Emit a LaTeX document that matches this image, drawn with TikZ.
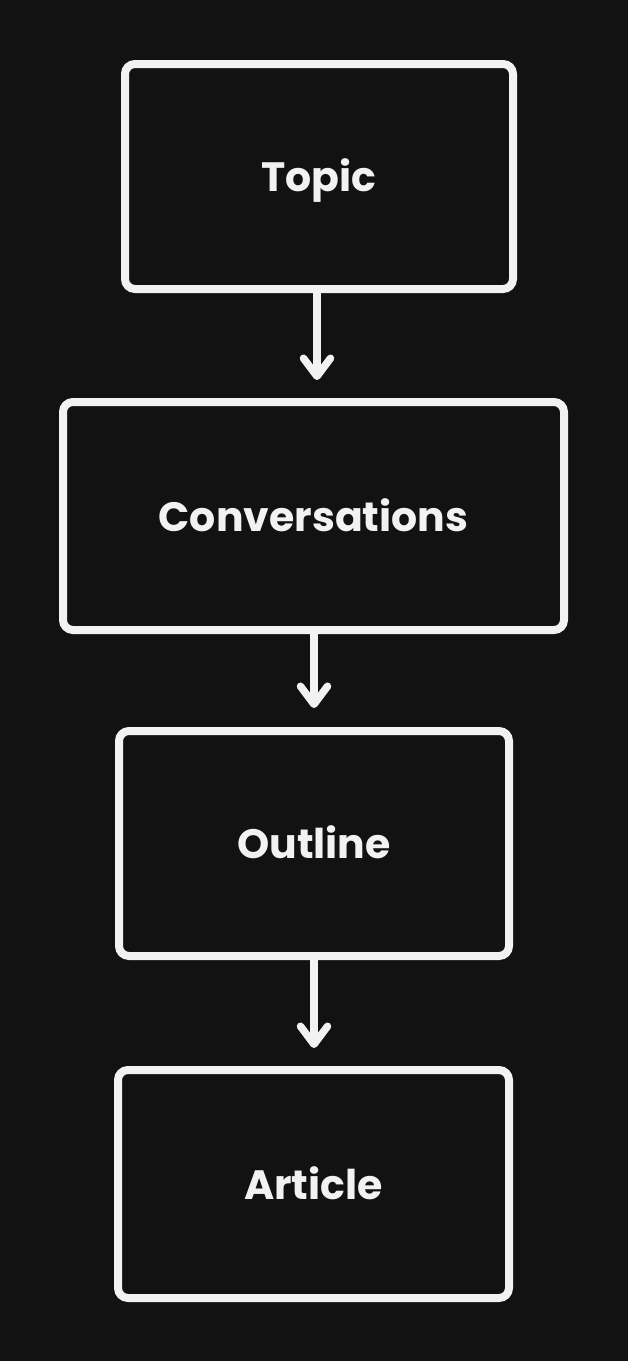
\documentclass[tikz,border=0pt]{standalone}
\usepackage{fontspec}
\setmainfont{Poppins}
\usetikzlibrary{arrows.meta}
\definecolor{bg}{HTML}{121212}
\definecolor{ink}{HTML}{F2F2F2}
\tikzset{
  stepbox/.style={draw=ink, line width=8pt, rounded corners=10pt, rectangle,
    text=ink, font=\fontsize{41}{41}\selectfont\bfseries,
    text height=30pt, text depth=0pt, inner sep=0pt},
  flowarrow/.style={draw=ink, line width=7.5pt, line cap=round,
    -{Straight Barb[length=18pt, width=27pt, line cap=round, line join=round]}}
}
\begin{document}
\begin{tikzpicture}[x=1pt, y=-1pt]
  \fill[bg] (0,0) rectangle (628,1361);
  \useasboundingbox (0,0) rectangle (628,1361);
  \node[stepbox, minimum width=388pt, minimum height=225pt] (t) at (319,176.5) {Topic};
  \node[stepbox, minimum width=501pt, minimum height=228pt] (c) at (313.5,516) {Conversations};
  \node[stepbox, minimum width=390pt, minimum height=225pt] (o) at (314,843.5) {Outline};
  \node[stepbox, minimum width=391pt, minimum height=228pt] (a) at (313.5,1184) {Article};
  \draw[flowarrow] ([xshift=-2pt]t.south) -- ([xshift=3.5pt, yshift=18pt]c.north);
  \draw[flowarrow] ([xshift=0.5pt]c.south) -- ([xshift=0pt, yshift=19pt]o.north);
  \draw[flowarrow] (o.south) -- ([xshift=0.5pt, yshift=18pt]a.north);
\end{tikzpicture}
\end{document}
